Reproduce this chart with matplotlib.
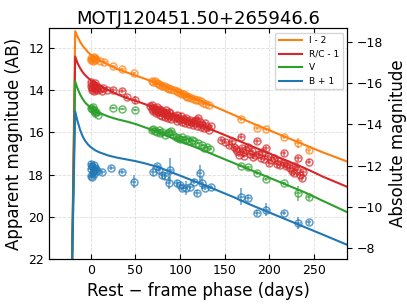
import matplotlib
matplotlib.use("Agg")
import matplotlib.pyplot as plt

title = "MOTJ120451.50+265946.6"
labels = ["I - 2", "R/C - 1", "V", "B + 1"]
colors = ["tab:orange", "tab:red", "tab:green", "tab:blue"]

# model curves (phase in days, magnitude with band offsets)
model_phase = [-21.3, -17.5, -15, -12, -9, -6, -3, 0, 5, 10, 20, 30, 40, 50, 60, 70, 80,
               100, 120, 140, 160, 180, 200, 220, 240, 260, 287]
model_I = [23.0, 11.2, 11.45, 11.7, 11.9, 12.05, 12.2, 12.32, 12.45, 12.58, 12.8, 13.0, 13.15,
           13.3, 13.45, 13.6, 13.75, 14.1, 14.45, 14.8, 15.17, 15.55, 15.9, 16.25, 16.6, 16.95, 17.38]
model_R = [23.0, 12.4, 12.7, 12.95, 13.15, 13.3, 13.42, 13.52, 13.65, 13.78, 14.0, 14.2, 14.37,
           14.5, 14.65, 14.8, 14.97, 15.3, 15.62, 15.95, 16.3, 16.65, 17.0, 17.35, 17.7, 18.1, 18.58]
model_V = [23.0, 13.58, 13.9, 14.2, 14.42, 14.6, 14.72, 14.82, 14.97, 15.08, 15.25, 15.38, 15.48,
           15.6, 15.75, 15.9, 16.07, 16.42, 16.75, 17.1, 17.45, 17.8, 18.15, 18.5, 18.85, 19.25, 19.78]
model_B = [23.0, 15.0, 15.45, 15.88, 16.2, 16.42, 16.58, 16.7, 16.85, 16.95, 17.1, 17.2, 17.28,
           17.36, 17.46, 17.58, 17.72, 18.05, 18.38, 18.72, 19.07, 19.45, 19.8, 20.15, 20.5, 20.85, 21.33]

# observed photometry
I_day = [0, 0.5, 1.5, 2, 3, 4, 5, 6, 10, 15, 25, 35, 48,
         68, 70, 72, 74, 76, 78, 80, 82, 84, 86, 88, 90, 93, 96, 98, 100, 102, 104, 106, 108,
         110, 112, 115, 118, 120, 123, 126, 129, 132,
         168, 186, 196, 216, 232, 244]
I_mag = [12.45, 12.55, 12.5, 12.6, 12.45, 12.4, 12.55, 12.5, 12.6, 12.65, 12.85, 13.0, 13.2,
         13.55, 13.6, 13.58, 13.65, 13.7, 13.75, 13.8, 13.78, 13.85, 13.9, 13.95, 13.92, 14.0, 14.05,
         14.1, 14.15, 14.2, 14.2, 14.25, 14.3, 14.32, 14.35, 14.4, 14.45, 14.48, 14.52, 14.6, 14.65, 14.72,
         15.35, 15.8, 15.85, 16.2, 16.5, 16.85]
I_err = [0.05] * (len(I_day) - 6) + [0.1, 0.08, 0.08, 0.1, 0.25, 0.12]

R_day = [0, 0, 1, 1.5, 2, 3, 3, 4, 4.5, 5, 6, 7, 8, 10, 12, 14, 18, 25, 35, 40, 49,
         66, 68, 69, 70, 71, 72, 73, 74, 75, 76, 77, 78, 79, 80, 81, 82, 83, 84, 85, 86, 87, 88,
         89, 90, 92, 94, 96, 97, 98, 100, 101, 102, 104, 105, 106, 108, 110, 111, 112, 114, 115,
         116, 118, 119, 120, 122, 123, 125, 127, 128, 130, 132, 134,
         146, 150, 155, 158, 160, 162, 164, 166, 168, 169, 170, 172, 174, 176, 178, 180, 182, 184,
         186, 188, 190, 192, 194, 196, 198, 200, 202, 205, 208, 210, 212, 216, 216, 218, 220, 223,
         225, 227, 229, 231, 232, 234, 236, 238, 244]
R_mag = [13.6, 13.8, 13.9, 14.0, 13.7, 13.85, 14.05, 13.75, 13.95, 13.65, 13.9, 14.0, 13.85, 13.95,
         14.05, 13.9, 14.0, 13.98, 14.03, 14.3, 14.45,
         14.75, 14.9, 14.7, 15.0, 14.85, 14.95, 15.1, 14.8, 15.05, 14.9, 15.15, 15.0, 14.95, 15.2,
         15.05, 15.1, 15.25, 14.95, 15.15, 15.3, 15.05, 15.2, 15.1, 15.35, 15.2, 15.3, 15.15, 15.45,
         15.3, 15.4, 15.2, 15.5, 15.35, 15.55, 15.3, 15.45, 15.6, 15.4, 15.5, 15.65, 15.45, 15.55,
         15.4, 15.7, 15.32, 15.5, 15.75, 15.65, 15.8, 15.55, 15.75, 15.9, 15.7,
         16.35, 16.45, 16.6, 16.43, 16.67, 16.8, 16.9, 17.05, 16.2, 16.75, 16.95, 17.1, 16.85, 16.67,
         17.0, 16.9, 17.15, 17.05, 16.43, 17.0, 17.2, 16.95, 17.25, 16.75, 17.1, 17.45, 17.3, 17.2,
         17.5, 17.35, 17.55, 16.98, 17.45, 17.6, 17.5, 17.7, 17.85, 17.93, 17.6, 17.8, 17.22, 18.0,
         18.17, 17.9, 17.38]
R_err = ([0.08] * 20 + [0.2] + [0.1] * 53 + [0.12] * (len(R_day) - 80)
         + [0.25, 0.12, 0.12, 0.12, 0.12, 0.12])

V_day = [0, 1, 2, 3, 4, 5, 6, 8, 25, 35, 50,
         68, 70, 72, 74, 76, 78, 80, 83, 86, 88, 90, 92, 95, 98, 100, 102, 105, 108, 110, 113,
         116, 120, 124, 127, 130, 133,
         168, 176, 186, 196, 216, 232, 244]
V_mag = [14.85, 14.9, 14.8, 15.0, 14.95, 15.1, 15.05, 15.15, 14.84, 14.88, 14.93,
         15.9, 15.85, 15.95, 16.0, 15.9, 16.05, 16.0, 16.1, 16.05, 16.0, 15.95, 16.1, 16.2, 16.25,
         16.3, 16.2, 16.35, 16.3, 16.4, 16.35, 16.4, 16.5, 16.6, 16.75, 16.7, 16.8,
         17.57, 17.65, 17.93, 18.22, 18.41, 18.88, 19.07]
V_err = [0.05] * (len(V_day) - 7) + [0.08, 0.08, 0.08, 0.08, 0.08, 0.35, 0.12]

B_day = [0, 0, 0, 1, 1.5, 2, 3, 3.5, 4, 5, 6, 7, 13, 23, 35, 48,
         70, 74, 76, 80, 83, 87, 89, 96, 100, 102, 106, 111, 115, 119, 122, 124, 128, 134,
         168, 176, 186, 196, 216, 232, 244]
B_mag = [17.5, 17.75, 18.05, 18.1, 17.6, 17.9, 17.55, 17.8, 17.95, 17.7, 17.75, 17.85, 17.9,
         17.7, 17.88, 18.33,
         17.86, 17.6, 17.78, 18.02, 18.06, 18.4, 17.78, 18.4, 18.49, 18.64, 18.64, 18.57, 18.33,
         18.88, 17.93, 18.4, 18.64, 18.57,
         19.04, 19.12, 19.83, 19.67, 19.83, 20.3, 20.27]
B_err = [0.15, 0.12, 0.15, 0.1, 0.2, 0.15, 0.12, 0.1, 0.15, 0.1, 0.1, 0.1, 0.1, 0.1, 0.1, 0.3,
         0.2, 0.1, 0.15, 0.15, 0.2, 0.3, 0.55, 0.15, 0.15, 0.15, 0.35, 0.12, 0.12, 0.15, 0.4, 0.3,
         0.1, 0.1,
         0.4, 0.15, 0.15, 0.3, 0.1, 0.3, 0.12]

fig = plt.figure(figsize=(4.07, 3.05), dpi=100)
ax = fig.add_axes([0.120, 0.151, 0.733, 0.757])

models = [model_I, model_R, model_V, model_B]
obs = [(I_day, I_mag, I_err), (R_day, R_mag, R_err), (V_day, V_mag, V_err), (B_day, B_mag, B_err)]
for lab, col, mod, (d, m, e) in zip(labels, colors, models, obs):
    n = min(len(d), len(m), len(e))
    ax.errorbar(d[:n], m[:n], yerr=e[:n], xerr=3, fmt="o", mfc="none", mec=col, ecolor=col,
                ms=5, mew=1.1, elinewidth=1.1, alpha=0.7, zorder=2)
    ax.plot(model_phase, mod, color=col, lw=1.5, label=lab, zorder=3)

ax.set_xlim(-47, 287)
ax.set_ylim(22, 11.05)
ax.set_xticks([0, 50, 100, 150, 200, 250])
ax.set_yticks([12, 14, 16, 18, 20, 22])
ax.grid(True, ls="--", lw=0.6, color="#dddddd")
ax.tick_params(direction="in", top=True, labelsize=9)
ax.set_xlabel("Rest \u2212 frame phase (days)", fontsize=12)
ax.set_ylabel("Apparent magnitude (AB)", fontsize=12)
ax.set_title(title, fontsize=13, pad=3)
ax.legend(loc="upper right", fontsize=6.5, handlelength=2.5)

ax2 = ax.twinx()
ax2.set_ylim(-7.48, -18.66)
ax2.set_yticks([-18, -16, -14, -12, -10, -8])
ax2.tick_params(labelsize=9)
ax2.set_ylabel("Absolute magnitude", fontsize=12)

fig.savefig("out.png", dpi=100)
